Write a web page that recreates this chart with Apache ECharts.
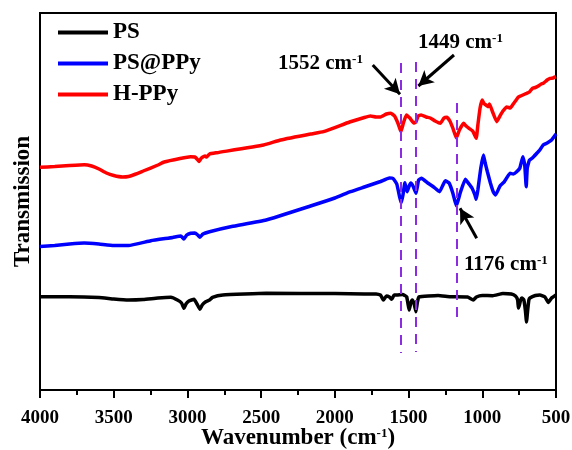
<!DOCTYPE html>
<html>
<head>
<meta charset="utf-8">
<script src="https://cdn.jsdelivr.net/npm/echarts@6/dist/echarts.min.js"></script>
<style>html,body{margin:0;padding:0;background:#fff}#c{width:572px;height:450px}</style>
</head>
<body>
<div id="c"></div>
<script>
// ---- data (wavenumber in cm^-1, transmission in arbitrary offset units) ----
const xTicks = [500, 1000, 1500, 2000, 2500, 3000, 3500, 4000];
const seriesNames = ['PS', 'PS@PPy', 'H-PPy'];

const psWave = [4000,3800,3600,3500,3400,3300,3200,3112,3068,3040,3023,3010,2990,2955,2935,2915,2900,2876,2850,2830,2760,2466,2000,1800,1720,1690,1671,1650,1630,1614,1598,1580,1540,1513,1496,1485,1475,1462,1450,1440,1430,1300,1217,1100,1061,1040,1000,929,860,803,775,760,755,748,740,732,718,708,700,692,684,677,640,609,575,552,530,500];
const psVal  = [93.3,93.3,92.5,91,90,90.5,92,92.7,90,87,81.7,86,89,90.7,86,80.7,85,88.3,90,92.7,95,96.7,96.5,96,96,95,90,94,93,90.7,95,95,95.5,93.3,80,87,90,86,78.3,88,93,94.5,93.3,93,90,93,94.5,94.3,96.5,96,94,90,82,85,90,92,90,80,68,80,90,92,94.5,95,93,87.5,92,95];

const ppyWave = [4000,3900,3800,3700,3600,3500,3400,3248,3100,3045,3023,3005,2978,2950,2930,2915,2895,2850,2700,2466,2165,2000,1894,1800,1690,1630,1605,1580,1562,1550,1538,1525,1510,1496,1485,1470,1449,1432,1412,1370,1330,1290,1251,1225,1200,1176,1150,1115,1095,1070,1050,1041,1030,1010,992,980,965,945,925,910,880,850,812,790,767,745,725,712,702,695,680,660,630,610,587,560,530,500];
const ppyVal  = [143.5,144.5,146,147,146,144.5,144.5,149.3,152.5,154,151,155,156.7,157,155,152.7,156,158.3,163.5,170,184,192,198.3,203,208.5,212,211.5,206,194,187,195,207.3,198.3,204,207,204,196.7,210,211.7,207,203,198.3,209.3,207,197,184,197,210.7,207,202,195,190.7,200,222,235,226.7,218,207,198,195,204,208.3,216.7,216,218.3,222,233.3,225,203.3,222,230,232,236.7,240,245,247,250,256];

const hppyWave = [4000,3900,3800,3700,3650,3600,3550,3500,3440,3400,3350,3300,3200,3158,3050,2978,2950,2935,2922,2905,2880,2870,2850,2800,2483,2368,2165,2077,1900,1800,1759,1720,1690,1650,1620,1595,1570,1552,1535,1515,1490,1465,1450,1435,1415,1380,1353,1320,1285,1260,1240,1220,1200,1176,1155,1127,1110,1090,1065,1041,1030,1015,1000,990,975,960,951,930,902,880,860,834,810,790,770,755,740,725,710,699,680,660,640,620,600,586,560,540,520,500];
const hppyVal  = [222.7,223.5,224.5,225.3,224,221,217,214.5,213,213.5,216,219,225,228,231.5,233.3,233,231,228.5,232,234,233,236,237.3,245,250,256,258.3,268,272.5,274,273,273,276,276.7,274,266,258.3,267,275,271.7,267,268,274,275,273,272,269,266.7,272,272.7,269,262,252,260,266.7,264,261.7,259,251.7,265,282,290,286.7,285,283.3,286,278,268.3,274,279,283,282,286,290,293,294,295,296,296.7,298,301.7,302.5,304,306,306.7,310,311.7,312,313.3];

const peakWaves = [1552, 1449, 1176];
const peakLabels = ['1552', '1449', '1176'];

function zip(xs, ys) { return xs.map((x, i) => [x, ys[i]]); }

const serif = '"Liberation Serif", "Times New Roman", serif';
const supStyle = { fontSize: 13, fontWeight: 'bold', fontFamily: serif, verticalAlign: 'top' };

const chart = echarts.init(document.getElementById('c'), null, { renderer: 'canvas' });

const dashLine = { color: '#8B2BE2', width: 2, type: [10, 7] };
const arrowLine = { color: '#000', width: 3, type: 'solid' };
const lineW = 3.5;

const option = {
  animation: false,
  backgroundColor: '#fff',
  grid: { left: 40, right: 16, top: 13, bottom: 60, show: true, borderColor: '#000', borderWidth: 2,
    backgroundColor: 'transparent', containLabel: false, outerBoundsMode: 'none' },
  legend: {
    orient: 'vertical', left: 53, top: 16, itemWidth: 50, itemHeight: 4, itemGap: 8,
    icon: 'rect', data: seriesNames,
    textStyle: { fontSize: 23, fontWeight: 'bold', fontFamily: serif, color: '#000' }
  },
  xAxis: [{
    type: 'value', inverse: true, min: 500, max: 4000, interval: 500,
    axisLine: { show: true, lineStyle: { color: '#000', width: 2 } },
    axisTick: { show: true, length: 8, lineStyle: { color: '#000', width: 2 } },
    splitLine: { show: false },
    axisLabel: { margin: 19, fontSize: 19, fontWeight: 'bold', fontFamily: serif, color: '#000',
      formatter: v => (xTicks.indexOf(v) >= 0 ? String(v) : '') },
    name: 'Wavenumber (cm{sup|-1})', nameLocation: 'middle', nameGap: 37, nameMoveOverlap: false,
    nameTextStyle: { fontSize: 23, fontWeight: 'bold', fontFamily: serif, color: '#000', rich: { sup: supStyle } }
  }, {
    type: 'value', inverse: true, min: 500, max: 4000, interval: 250, position: 'bottom',
    axisLine: { show: false },
    axisTick: { show: true, length: 5, lineStyle: { color: '#000', width: 2 } },
    axisLabel: { show: false }, splitLine: { show: false }
  }],
  yAxis: {
    type: 'value', min: 0, max: 377,
    axisLine: { show: true, lineStyle: { color: '#000', width: 2 } },
    axisTick: { show: false }, axisLabel: { show: false }, splitLine: { show: false },
    name: 'Transmission', nameLocation: 'middle', nameGap: 5, nameMoveOverlap: false,
    nameTextStyle: { fontSize: 23, fontWeight: 'bold', fontFamily: serif, color: '#000' }
  },
  series: [
    { name: 'PS', type: 'line', data: zip(psWave, psVal), showSymbol: false, smooth: 0.12,
      lineStyle: { color: '#000', width: lineW }, itemStyle: { color: '#000' } },
    { name: 'PS@PPy', type: 'line', data: zip(ppyWave, ppyVal), showSymbol: false, smooth: 0.12,
      lineStyle: { color: '#0000FF', width: lineW }, itemStyle: { color: '#0000FF' } },
    { name: 'H-PPy', type: 'line', data: zip(hppyWave, hppyVal), showSymbol: false, smooth: 0.12,
      lineStyle: { color: '#FF0000', width: lineW }, itemStyle: { color: '#FF0000' },
      markLine: {
        silent: true, animation: false, label: { show: false },
        data: [
          [{ coord: [peakWaves[0], 327], symbol: 'none', lineStyle: dashLine }, { coord: [peakWaves[0], 37], symbol: 'none' }],
          [{ coord: [peakWaves[1], 328], symbol: 'none', lineStyle: dashLine }, { coord: [peakWaves[1], 38], symbol: 'none' }],
          [{ coord: [peakWaves[2], 287], symbol: 'none', lineStyle: dashLine }, { coord: [peakWaves[2], 72], symbol: 'none' }],
          [{ coord: [1743, 325], symbol: 'none', lineStyle: arrowLine }, { coord: [1558, 295.7], symbol: 'arrow', symbolSize: [12, 15] }],
          [{ coord: [1192, 335], symbol: 'none', lineStyle: arrowLine }, { coord: [1434, 304], symbol: 'arrow', symbolSize: [12, 15] }],
          [{ coord: [1038, 151.7], symbol: 'none', lineStyle: arrowLine }, { coord: [1151, 181.7], symbol: 'arrow', symbolSize: [12, 15] }]
        ]
      }
    }
  ],
  graphic: [
    { type: 'text', left: 278, top: 53, style: { text: peakLabels[0] + ' cm{sup|-1}', fontSize: 21, fontWeight: 'bold', fontFamily: serif, fill: '#000', rich: { sup: supStyle } } },
    { type: 'text', left: 418, top: 32, style: { text: peakLabels[1] + ' cm{sup|-1}', fontSize: 21, fontWeight: 'bold', fontFamily: serif, fill: '#000', rich: { sup: supStyle } } },
    { type: 'text', left: 464, top: 254, style: { text: peakLabels[2] + ' cm{sup|-1}', fontSize: 21, fontWeight: 'bold', fontFamily: serif, fill: '#000', rich: { sup: supStyle } } }
  ]
};
chart.setOption(option);
</script>
</body>
</html>
